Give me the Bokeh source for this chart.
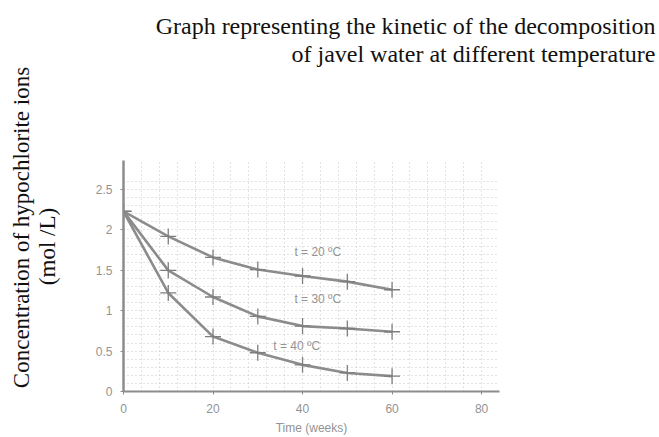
import math
from bokeh.plotting import figure
from bokeh.layouts import row, column
from bokeh.models import (Label, FixedTicker, SingleIntervalTicker, Range1d,
                          LinearAxis)
from bokeh.core.properties import value
from bokeh.embed import file_html
from bokeh.resources import INLINE

# ---- data ----
weeks = [0, 10, 20, 30, 40, 50, 60]
conc_20C = [2.23, 1.92, 1.66, 1.51, 1.43, 1.36, 1.26]
conc_30C = [2.23, 1.50, 1.17, 0.93, 0.81, 0.78, 0.74]
conc_40C = [2.23, 1.22, 0.68, 0.48, 0.33, 0.23, 0.19]

series_labels = ["t = 20 \u00baC", "t = 30 \u00baC", "t = 40 \u00baC"]
label_pos_x = [43.4, 43.4, 38.7]
label_pos_y = [1.73, 1.15, 0.56]

x_ticks = [0, 20, 40, 60, 80]
y_ticks = [0, 0.5, 1, 1.5, 2, 2.5]
y_tick_labels = ["0", "0.5", "1", "1.5", "2", "2.5"]

title_lines = ["Graph representing the kinetic of the decomposition",
               "of javel water at different temperature"]
ylabel_lines = ["Concentration of hypochlorite ions", "(mol /L)"]
xlabel = "Time (weeks)"

# ---- styles ----
GRAY_LINE = "#8c8c8c"
GRAY_TEXT = "#939393"
SERIF = "Liberation Serif"
SANS = "Liberation Sans"
LEFT_W, TOP_H, W, H = 62, 72, 659, 437


def text_panel(w, h):
    f = figure(width=w, height=h, x_range=Range1d(0, w), y_range=Range1d(0, h),
               output_backend="svg", toolbar_location=None,
               x_axis_location=None, y_axis_location=None, min_border=0,
               frame_align=False)
    f.outline_line_color = None
    f.grid.visible = False
    f.background_fill_color = "white"
    f.border_fill_color = "white"
    return f


# ---- left panel: y label (two rotated lines) ----
left = text_panel(LEFT_W, H)
left.add_layout(Label(x=20.5, y=H - 227, angle=math.pi / 2, text=ylabel_lines[0],
                      text_align="center", text_baseline="alphabetic",
                      text_font=SERIF, text_font_size="23px", text_color="#111111"))
left.add_layout(Label(x=47, y=H - 246, angle=math.pi / 2, text=ylabel_lines[1],
                      text_align="center", text_baseline="alphabetic",
                      text_font=SERIF, text_font_size="23px", text_color="#111111"))

# ---- top panel: title (two right-aligned lines) ----
top = text_panel(W - LEFT_W, TOP_H)
top.add_layout(Label(x=655 - LEFT_W, y=TOP_H - 25, text=title_lines[0],
                     text_align="right", text_baseline="alphabetic",
                     text_font=SERIF, text_font_size="24px", text_color="#111111"))
top.add_layout(Label(x=655 - LEFT_W, y=TOP_H - 53, text=title_lines[1],
                     text_align="right", text_baseline="alphabetic",
                     text_font=SERIF, text_font_size="24px", text_color="#111111"))

# ---- main chart ----
p = figure(width=W - LEFT_W, height=H - TOP_H,
           x_range=Range1d(0, 84), y_range=Range1d(0, 2.86),
           output_backend="svg", toolbar_location=None,
           min_border_left=123 - LEFT_W, min_border_right=160,
           min_border_top=160 - TOP_H, min_border_bottom=45,
           frame_align=False)
p.outline_line_color = None
p.background_fill_color = "white"
p.border_fill_color = "white"

# grid
p.xgrid.ticker = SingleIntervalTicker(interval=4)
p.ygrid.ticker = SingleIntervalTicker(interval=0.1)
p.xgrid.bounds = (0, 80)
p.ygrid.bounds = (0, 2.6)
for g in (p.xgrid, p.ygrid):
    g.grid_line_color = "#c4c4c4"
    g.grid_line_dash = "1 3"
    g.grid_line_width = 1

# axes
p.xaxis.ticker = FixedTicker(ticks=x_ticks)
p.yaxis.ticker = FixedTicker(ticks=y_ticks)
p.yaxis.major_label_overrides = {t: s for t, s in zip(y_ticks, y_tick_labels)}
for ax in (p.xaxis, p.yaxis):
    ax.axis_line_color = GRAY_LINE
    ax.axis_line_width = 2
    ax.major_tick_line_color = GRAY_LINE
    ax.major_tick_out = 3
    ax.major_tick_in = 0
    ax.minor_tick_line_color = None
    ax.major_label_text_color = GRAY_TEXT
    ax.major_label_text_font = SANS
    ax.major_label_text_font_size = "12px"
p.yaxis.axis_line_width = 2.5
p.xaxis.major_label_standoff = 9
p.yaxis.major_label_standoff = 8

# x-axis title on its own axis, centred on the 0-80 span
label_axis = LinearAxis(bounds=(0, 80), ticker=FixedTicker(ticks=[]),
                        axis_line_color=None, major_tick_line_color=None,
                        minor_tick_line_color=None, major_tick_out=0,
                        major_label_standoff=0,
                        axis_label=xlabel, axis_label_standoff=5,
                        axis_label_text_font=SANS,
                        axis_label_text_font_size="12px",
                        axis_label_text_font_style="normal",
                        axis_label_text_color=GRAY_TEXT)
p.add_layout(label_axis, "below")

# curves and markers
for ys in (conc_20C, conc_30C, conc_40C):
    p.line(weeks, ys, line_color=GRAY_LINE, line_width=2.6)
    p.scatter(weeks, ys, marker="cross", size=16, line_color="#7e7e7e",
              line_width=1.3)

p.text(x=label_pos_x, y=label_pos_y, text=series_labels,
       text_font=value(SANS), text_font_size="12px", text_color=GRAY_TEXT,
       text_align="center", text_baseline="middle")

layout = row(left, column(top, p))
open("out.html", "w").write(file_html(layout, INLINE))
